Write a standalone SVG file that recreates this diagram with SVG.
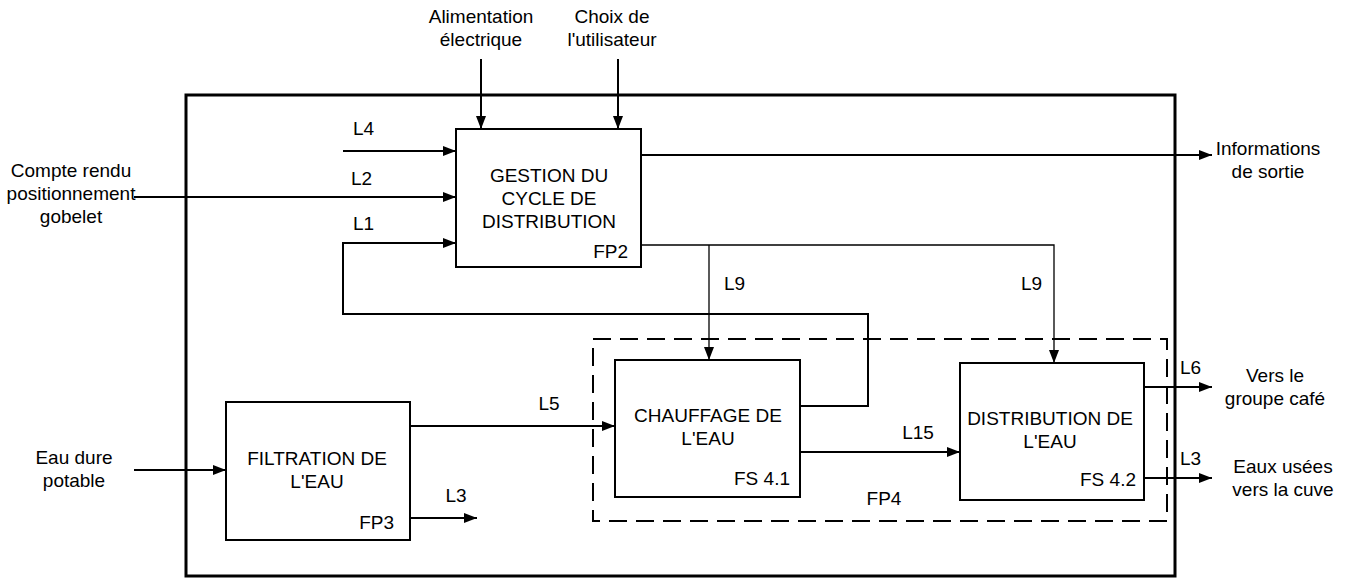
<svg xmlns="http://www.w3.org/2000/svg" width="1349" height="583" viewBox="0 0 1349 583">
<style>
text { font-family: "Liberation Sans", Arial, sans-serif; font-size: 19px; fill: #000; }
.m { text-anchor: middle; }
.e { text-anchor: end; }
.box { fill: #fff; stroke: #000; stroke-width: 2; }
.frame { fill: none; stroke: #000; stroke-width: 3; }
.dash { fill: none; stroke: #000; stroke-width: 2; stroke-dasharray: 18 9; }
.a { fill: none; stroke: #000; stroke-width: 2; }
.thin { fill: none; stroke: #000; stroke-width: 1.3; }
</style>
<defs>
<marker id="ah" markerUnits="userSpaceOnUse" markerWidth="13" markerHeight="10" refX="13" refY="5" orient="auto">
<path d="M0,0 L13,5 L0,10 z" fill="#000"/>
</marker>
</defs>
<rect id="frame" class="frame" x="186" y="95" width="989" height="481"/>
<g id="FP4">
<rect class="dash" x="593" y="339" width="574" height="182"/>
<text class="m" x="884" y="505">FP4</text>
</g>
<g id="FP2">
<rect class="box" x="456" y="129" width="185" height="138"/>
<text class="m" x="549" y="182">GESTION DU</text>
<text class="m" x="549" y="205">CYCLE DE</text>
<text class="m" x="549" y="228">DISTRIBUTION</text>
<text class="e" x="628" y="258">FP2</text>
</g>
<g id="FP3">
<rect class="box" x="226" y="402" width="184" height="138"/>
<text class="m" x="317" y="465">FILTRATION DE</text>
<text class="m" x="317" y="488">L'EAU</text>
<text class="e" x="394" y="529">FP3</text>
</g>
<g id="FS41">
<rect class="box" x="615" y="360" width="185" height="137"/>
<text class="m" x="708" y="422">CHAUFFAGE DE</text>
<text class="m" x="708" y="445">L'EAU</text>
<text class="e" x="790" y="485">FS 4.1</text>
</g>
<g id="FS42">
<rect class="box" x="960" y="363" width="184" height="137"/>
<text class="m" x="1050" y="425">DISTRIBUTION DE</text>
<text class="m" x="1050" y="448">L'EAU</text>
<text class="e" x="1136" y="486">FS 4.2</text>
</g>
<g id="ext-alim"><text class="m" x="481" y="23">Alimentation</text><text class="m" x="481" y="46">électrique</text></g>
<g id="ext-choix"><text class="m" x="612" y="23">Choix de</text><text class="m" x="612" y="46">l'utilisateur</text></g>
<g id="ext-compte"><text class="m" x="71" y="177">Compte rendu</text><text class="m" x="71" y="200">positionnement</text><text class="m" x="71" y="223">gobelet</text></g>
<g id="ext-eau"><text class="m" x="74" y="464">Eau dure</text><text class="m" x="74" y="487">potable</text></g>
<g id="ext-info"><text class="m" x="1268" y="155">Informations</text><text class="m" x="1268" y="178">de sortie</text></g>
<g id="ext-cafe"><text class="m" x="1275" y="382">Vers le</text><text class="m" x="1275" y="405">groupe café</text></g>
<g id="ext-cuve"><text class="m" x="1283" y="473">Eaux usées</text><text class="m" x="1283" y="496">vers la cuve</text></g>
<g id="connectors">
<path class="a" d="M481,59 V129" marker-end="url(#ah)"/>
<path class="a" d="M618,59 V129" marker-end="url(#ah)"/>
<path class="a" d="M343,151 H456" marker-end="url(#ah)"/>
<text x="353" y="135">L4</text>
<path class="a" d="M134,197 H456" marker-end="url(#ah)"/>
<text x="351" y="185">L2</text>
<path class="a" d="M800,406 H868 V314 H343 V243 H456" marker-end="url(#ah)"/>
<text x="353" y="230">L1</text>
<path class="a" d="M641,155 H1212" marker-end="url(#ah)"/>
<path class="thin" d="M641,245 H1054 V363" marker-end="url(#ah)"/>
<path class="thin" d="M709,245 V360" marker-end="url(#ah)"/>
<text x="724" y="290">L9</text>
<text x="1021" y="290">L9</text>
<path class="a" d="M410,426 H615" marker-end="url(#ah)"/>
<text class="m" x="549" y="410">L5</text>
<path class="a" d="M134,470 H226" marker-end="url(#ah)"/>
<path class="a" d="M410,518 H477" marker-end="url(#ah)"/>
<text class="m" x="456" y="502">L3</text>
<path class="a" d="M800,452 H960" marker-end="url(#ah)"/>
<text class="m" x="918" y="439">L15</text>
<path class="a" d="M1144,387 H1212" marker-end="url(#ah)"/>
<text x="1180" y="374">L6</text>
<path class="a" d="M1144,478 H1212" marker-end="url(#ah)"/>
<text x="1180" y="465">L3</text>
</g>
</svg>
